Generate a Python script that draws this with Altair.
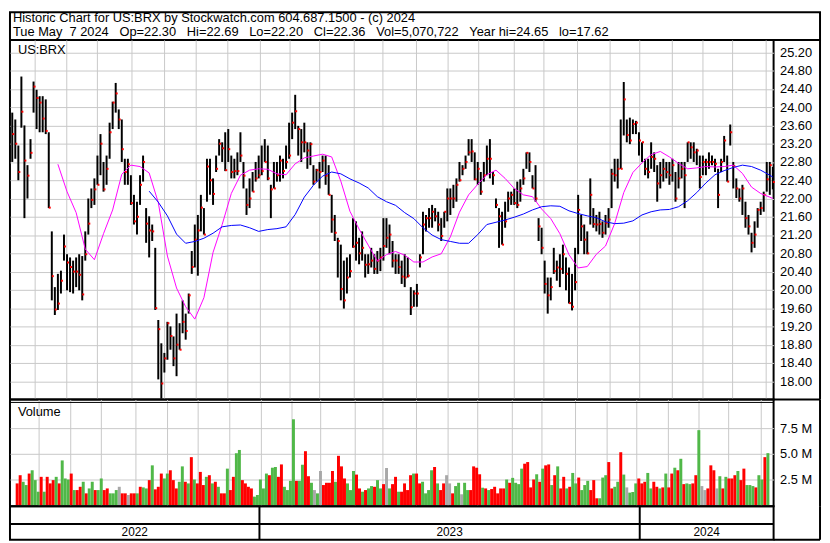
import altair as alt
import pandas as pd

# ------------------------------------------------------------------ data
TITLE_LINE_1 = "Historic Chart for US:BRX by Stockwatch.com 604.687.1500 - (c) 2024"
TITLE_LINE_2 = ("Tue May\u00a0\u00a07 2024\u00a0\u00a0\u00a0Op=22.30\u00a0\u00a0\u00a0Hi=22.69"
                "\u00a0\u00a0\u00a0Lo=22.20\u00a0\u00a0\u00a0Cl=22.36\u00a0\u00a0\u00a0Vol=5,070,722"
                "\u00a0\u00a0\u00a0Year hi=24.65\u00a0\u00a0\u00a0lo=17.62")
SYMBOL = "US:BRX"
VOLUME_LABEL = "Volume"
START_DATE = "2022-05-09"
END_DATE = "2024-05-07"
MARKET_HOLIDAYS = ["2022-05-30", "2022-06-20", "2022-07-04", "2022-09-05", "2022-11-24",
                   "2022-12-26", "2023-01-02", "2023-01-16", "2023-02-20", "2023-04-07",
                   "2023-05-29", "2023-06-19", "2023-07-04", "2023-09-04", "2023-11-23",
                   "2023-12-25", "2024-01-01", "2024-01-15", "2024-02-19", "2024-03-29"]

# one bar per two trading days, oldest first, last = 2024-05-07
HIGH = [23.88, 23.73, 23.16, 24.67, 23.60, 22.73, 23.30, 24.56, 24.38, 24.24,
        24.24, 24.17, 23.45, 21.28, 20.06, 20.35, 20.42, 21.21, 20.78, 20.71,
        20.64, 20.71, 20.78, 20.74, 21.28, 22.00, 22.22, 22.44, 22.94, 23.41,
        22.80, 22.94, 23.66, 24.12, 24.53, 23.95, 23.73, 22.87, 22.87, 22.51,
        22.08, 21.93, 22.51, 22.94, 21.79, 21.61, 21.43, 20.92, 19.34, 18.83,
        18.62, 19.30, 19.20, 18.98, 19.48, 19.27, 19.77, 19.48, 19.92, 20.85,
        21.43, 21.64, 22.08, 21.79, 22.87, 22.87, 22.44, 22.94, 23.30, 23.23,
        23.45, 23.52, 22.94, 22.87, 23.01, 23.45, 22.80, 22.22, 22.44, 22.58,
        22.80, 22.94, 23.16, 23.30, 23.16, 22.30, 22.80, 22.80, 22.94, 22.87,
        23.16, 23.66, 23.88, 24.27, 23.59, 23.52, 23.66, 23.23, 23.23, 22.73,
        22.65, 22.80, 22.94, 22.94, 22.73, 22.08, 21.64, 21.14, 20.99, 20.64,
        20.71, 20.78, 21.57, 21.50, 21.14, 21.28, 20.78, 20.78, 20.92, 20.78,
        20.85, 20.92, 21.57, 21.57, 21.43, 21.07, 20.78, 20.78, 20.64, 20.78,
        20.71, 20.06, 19.99, 20.13, 20.78, 21.71, 21.64, 21.79, 21.86, 21.79,
        21.71, 21.57, 21.71, 22.22, 22.22, 22.30, 22.44, 22.80, 22.73, 22.94,
        23.30, 23.30, 23.01, 22.80, 22.58, 22.80, 23.16, 23.30, 22.58, 22.00,
        21.79, 21.71, 21.93, 22.15, 22.15, 22.22, 22.37, 22.42, 22.65, 23.01,
        23.01, 22.51, 22.73, 21.57, 21.36, 20.64, 20.27, 20.27, 20.92, 20.64,
        20.78, 20.99, 20.71, 20.49, 20.35, 20.92, 22.08, 21.64, 21.43, 21.28,
        22.44, 21.79, 21.64, 21.71, 21.50, 21.64, 21.79, 22.65, 22.87, 22.87,
        23.73, 24.55, 23.73, 23.77, 23.73, 23.70, 23.45, 23.23, 22.87, 22.87,
        23.23, 23.01, 22.73, 22.80, 22.87, 22.80, 22.80, 22.87, 22.58, 22.80,
        22.80, 22.80, 23.23, 23.23, 23.23, 23.09, 22.94, 22.94, 22.87, 23.01,
        22.94, 22.87, 22.65, 22.87, 23.37, 22.94, 23.62, 22.80, 22.44, 22.22,
        22.30, 21.93, 21.64, 21.25, 21.50, 21.79, 21.93, 22.15, 22.80, 22.80,
        22.69]
LOW = [22.80, 22.87, 22.40, 23.55, 21.57, 22.00, 22.87, 23.88, 23.52, 23.45,
       23.45, 23.41, 21.79, 19.77, 19.45, 19.56, 19.92, 20.64, 19.99, 19.95,
       19.92, 20.06, 19.99, 19.77, 20.64, 21.21, 21.79, 21.86, 22.30, 22.51,
       22.15, 22.30, 22.87, 23.52, 23.88, 23.52, 22.80, 22.30, 22.30, 21.86,
       21.43, 21.21, 21.86, 22.37, 21.03, 20.71, 21.07, 19.56, 18.04, 17.62,
       18.19, 18.47, 18.69, 18.33, 18.11, 18.69, 19.05, 18.91, 19.48, 20.35,
       20.49, 20.31, 21.28, 21.21, 21.93, 22.08, 21.86, 22.58, 22.94, 22.80,
       22.60, 22.80, 22.44, 22.44, 22.51, 22.80, 22.22, 21.64, 21.79, 22.15,
       22.37, 22.44, 22.51, 22.80, 22.40, 21.57, 22.22, 22.37, 22.37, 22.44,
       22.65, 22.87, 23.30, 23.52, 22.94, 22.80, 23.01, 22.65, 22.73, 22.30,
       22.37, 22.22, 22.58, 22.30, 22.08, 21.25, 21.07, 20.27, 19.77, 19.59,
       19.92, 20.27, 20.92, 20.64, 20.56, 20.64, 20.27, 20.35, 20.49, 20.35,
       20.35, 20.41, 20.64, 20.92, 20.78, 20.49, 20.35, 20.35, 20.13, 20.06,
       20.27, 19.45, 19.63, 19.63, 20.49, 20.78, 21.28, 21.36, 21.36, 21.50,
       21.28, 21.07, 21.36, 21.50, 21.64, 21.79, 21.93, 22.37, 22.51, 22.65,
       22.94, 22.80, 22.40, 22.30, 22.08, 22.37, 22.51, 22.44, 22.30, 21.79,
       20.92, 20.99, 21.36, 21.71, 21.86, 21.86, 21.79, 21.93, 22.30, 22.65,
       22.58, 22.22, 21.93, 21.07, 20.78, 19.92, 19.48, 19.77, 20.35, 20.20,
       20.06, 20.35, 19.99, 19.70, 19.55, 19.99, 20.78, 21.07, 20.78, 20.78,
       21.43, 21.36, 21.28, 21.21, 21.14, 21.21, 21.36, 21.79, 22.37, 22.22,
       22.65, 23.38, 23.23, 23.19, 23.41, 23.41, 22.94, 22.80, 22.51, 22.44,
       22.65, 22.58, 21.93, 22.22, 22.37, 22.44, 22.30, 22.37, 21.93, 22.22,
       22.44, 21.79, 22.80, 22.87, 22.80, 22.73, 22.22, 22.51, 22.51, 22.65,
       22.73, 22.58, 21.79, 22.58, 22.80, 22.37, 23.16, 22.22, 22.01, 21.93,
       21.64, 21.36, 21.21, 20.82, 20.92, 21.36, 21.64, 21.71, 22.15, 22.08,
       22.20]
CLOSE = [23.41, 23.20, 22.58, 23.90, 22.83, 22.50, 23.00, 24.45, 24.20, 24.10,
         23.75, 23.48, 21.80, 20.30, 19.57, 19.70, 20.20, 20.95, 20.60, 20.50,
         20.40, 20.40, 20.33, 19.90, 20.78, 21.45, 21.97, 22.20, 22.30, 23.20,
         22.20, 22.65, 23.45, 24.10, 24.30, 23.73, 23.08, 22.58, 22.75, 21.90,
         21.50, 21.60, 22.30, 22.80, 21.45, 21.30, 21.28, 19.60, 19.14, 17.95,
         18.50, 19.27, 18.99, 18.50, 18.80, 18.69, 19.30, 19.10, 19.88, 20.50,
         21.10, 21.30, 21.80, 21.21, 22.70, 22.40, 22.10, 22.65, 23.20, 23.10,
         22.62, 23.08, 22.58, 22.60, 22.60, 22.94, 22.50, 21.86, 22.00, 22.15,
         22.44, 22.51, 22.60, 22.80, 22.44, 22.20, 22.22, 22.51, 22.83, 22.60,
         22.80, 22.94, 23.66, 23.91, 23.52, 23.23, 23.23, 23.05, 23.19, 22.37,
         22.62, 22.58, 22.83, 22.50, 22.08, 21.54, 21.25, 21.07, 20.02, 19.77,
         20.27, 20.41, 20.95, 21.03, 20.80, 20.92, 20.55, 20.56, 20.64, 20.46,
         20.64, 20.71, 20.96, 21.14, 21.21, 20.64, 20.64, 20.50, 20.29, 20.27,
         20.31, 19.62, 19.92, 19.92, 20.71, 21.43, 21.57, 21.57, 21.71, 21.61,
         21.43, 21.18, 21.71, 22.00, 22.00, 22.00, 22.30, 22.40, 22.65, 22.80,
         23.01, 23.03, 22.42, 22.65, 22.15, 22.51, 22.87, 22.87, 22.51, 21.86,
         21.61, 20.99, 21.50, 22.00, 22.08, 21.90, 21.86, 22.22, 22.44, 23.00,
         22.80, 22.22, 22.00, 21.39, 20.92, 20.13, 19.88, 20.06, 20.41, 20.49,
         20.46, 20.78, 20.35, 19.71, 19.63, 20.17, 21.75, 21.39, 21.10, 20.80,
         22.08, 21.44, 21.43, 21.44, 21.25, 21.46, 21.54, 22.54, 22.51, 22.65,
         22.65, 24.17, 23.39, 23.27, 23.63, 23.66, 23.27, 23.23, 22.65, 22.58,
         22.91, 22.87, 22.33, 22.51, 22.65, 22.58, 22.51, 22.73, 22.00, 22.44,
         22.65, 22.51, 23.23, 23.12, 23.01, 23.05, 22.47, 22.80, 22.80, 22.80,
         22.80, 22.76, 22.08, 22.80, 23.27, 22.37, 23.45, 22.71, 22.22, 22.00,
         22.22, 21.57, 21.39, 21.03, 21.21, 21.75, 21.79, 22.08, 22.42, 22.73,
         22.36]
# volume in millions of shares, same bars as above
VOLUME = [2.12, 2.92, 2.28, 1.96, 3.08, 3.40, 2.44, 1.31, 2.76, 1.31,
          2.76, 2.12, 2.44, 2.76, 2.12, 4.36, 2.60, 2.50, 3.08, 1.47,
          1.47, 1.79, 2.28, 1.15, 1.63, 2.28, 1.47, 1.47, 2.60, 1.47,
          1.63, 1.15, 1.15, 1.47, 1.79, 1.15, 1.15, 0.99, 1.15, 1.15,
          1.15, 1.79, 1.73, 1.63, 2.44, 3.88, 1.54, 1.79, 3.08, 2.60,
          3.08, 3.40, 2.44, 1.63, 2.28, 3.78, 2.28, 2.12, 4.68, 2.50,
          2.12, 3.24, 1.96, 2.76, 2.92, 2.12, 2.28, 1.79, 1.15, 1.15,
          3.56, 1.47, 2.76, 5.06, 5.38, 2.44, 2.12, 1.79, 1.63, 0.83,
          0.99, 2.50, 1.63, 3.08, 2.92, 3.65, 3.72, 2.76, 3.97, 1.79,
          1.47, 2.37, 8.37, 2.37, 2.37, 3.94, 5.26, 2.82, 2.18, 1.47,
          1.15, 3.33, 1.96, 2.18, 2.18, 3.33, 2.28, 4.81, 3.78, 2.60,
          2.12, 1.47, 3.33, 2.98, 1.63, 1.31, 1.47, 1.63, 1.86, 1.79,
          2.44, 1.63, 2.05, 3.62, 1.63, 2.05, 2.76, 1.31, 1.31, 2.12,
          1.47, 2.92, 3.08, 3.08, 2.12, 2.28, 1.15, 1.47, 3.40, 3.72,
          2.12, 1.47, 2.12, 2.92, 2.12, 1.15, 1.86, 2.18, 1.06, 2.18,
          1.47, 1.47, 3.78, 3.65, 3.01, 1.70, 1.63, 1.47, 1.57, 1.79,
          1.15, 1.63, 1.63, 2.50, 2.18, 2.66, 2.18, 2.05, 3.56, 4.04,
          4.20, 1.73, 2.50, 3.01, 2.28, 3.56, 3.88, 3.97, 1.96, 2.92,
          3.78, 1.63, 2.76, 1.63, 1.79, 3.14, 2.12, 2.69, 1.47, 1.96,
          2.37, 1.47, 2.44, 0.67, 0.67, 2.69, 2.92, 4.20, 1.63, 1.79,
          2.28, 5.16, 2.98, 1.73, 1.22, 1.28, 2.12, 2.60, 2.12, 2.28,
          3.14, 1.63, 2.28, 1.79, 1.63, 1.73, 3.08, 1.73, 3.08, 3.65,
          3.40, 4.52, 2.05, 2.12, 2.05, 2.12, 2.92, 7.31, 1.86, 1.47,
          1.63, 3.88, 3.40, 1.63, 2.82, 1.63, 2.76, 2.60, 2.60, 2.92,
          3.33, 2.44, 3.56, 1.96, 1.96, 1.86, 1.73, 2.92, 2.50, 4.68,
          5.07]
# g = up day, r = down day, n = unchanged
VOLUME_DIRECTION = ("rrggrgggrg" "rrrgrgggrg" "rrgrggrggr" "rgggnrrnrr" "grggrgrrrg"
                    "grrrggrgrg" "rrrgrgrgrr" "grrggrrrrg" "ggggrggrrg" "gggrggrrgn"
                    "gnrrrrgrrr" "gggrrgrggr" "ggrngrrgrr" "rrgrrggggr" "grrnnrggng"
                    "grrrrgrgrr" "rrrgrggggr" "rrrgrgrrgr" "grrgrggrgg" "grrrgggrrg"
                    "grgngggrrr" "ggrrgrgrrg" "rgrggrrgnn" "rrrngrgrrr" "grrgggrggr" "g")

# moving averages read at every third bar
FAST_MA_BAR = list(range(15, 250, 3)) + [250]
FAST_MA = [22.75, 22.15, 21.69, 20.89, 20.66, 21.23, 21.75, 22.53, 22.73, 22.70,
           22.56, 21.91, 20.74, 20.04, 19.63, 19.36, 19.83, 20.82, 21.43, 22.11,
           22.51, 22.62, 22.65, 22.64, 22.54,
           22.52, 22.76, 22.89, 22.93, 22.97, 22.91, 22.38, 21.72, 21.33, 20.98,
           20.63, 20.77, 20.84, 20.76, 20.61, 20.61, 20.72, 20.79, 21.16, 21.70,
           22.08, 22.31, 22.52, 22.62, 22.44, 22.22, 22.08, 22.04, 21.77,
           21.56, 21.23, 20.77, 20.48, 20.51, 20.78, 20.96, 21.45, 22.13, 22.57,
           22.78, 22.96, 23.03, 22.91, 22.77, 22.65, 22.67, 22.70, 22.69, 22.70,
           22.73, 22.55, 22.25, 22.11, 22.03, 22.00]
SLOW_MA_BAR = list(range(45, 250, 3)) + [250]
SLOW_MA = [22.16, 21.92, 21.62, 21.22, 21.02, 21.06, 21.13, 21.24, 21.38, 21.41,
           21.42, 21.36, 21.28, 21.32, 21.34,
           21.38, 21.65, 22.03, 22.29, 22.49, 22.58, 22.54, 22.43, 22.34, 22.23,
           22.04, 21.93, 21.85, 21.69, 21.56, 21.36, 21.20, 21.10, 21.06, 21.02,
           21.02, 21.21, 21.43, 21.48, 21.53, 21.59, 21.66, 21.75, 21.82,
           21.84, 21.83, 21.73, 21.67, 21.62, 21.58, 21.49, 21.45, 21.46, 21.51,
           21.64, 21.71, 21.75, 21.76, 21.82, 21.95, 22.13, 22.34, 22.52, 22.61,
           22.68, 22.73, 22.70, 22.62, 22.51, 22.47]

PRICE_TICKS = [18.00, 18.40, 18.80, 19.20, 19.60, 20.00, 20.40, 20.80, 21.20, 21.60,
               22.00, 22.40, 22.80, 23.20, 23.60, 24.00, 24.40, 24.80, 25.20]
VOLUME_TICKS = [2.5, 5.0, 7.5]

assert len(HIGH) == len(LOW) == len(CLOSE) == len(VOLUME) == len(VOLUME_DIRECTION)
assert len(FAST_MA) == len(FAST_MA_BAR) and len(SLOW_MA) == len(SLOW_MA_BAR)

# ------------------------------------------------------------------ calendar
days = pd.bdate_range(START_DATE, END_DATE)
days = days[~days.isin(pd.to_datetime(MARKET_HOLIDAYS))]
ND = len(days)
pos = pd.Series(range(ND), index=days)
month_first = pos.groupby([days.year, days.month]).min().tolist()
month_lines = [i - 0.5 for i in month_first if i > 0]
year_first = pos.groupby(days.year).min()
edges = [-0.5] + [v - 0.5 for v in year_first.tolist()[1:]] + [ND - 0.5]
years_df = pd.DataFrame({
    "year": [str(y) for y in year_first.index],
    "day": [(edges[i] + edges[i + 1]) / 2 for i in range(len(edges) - 1)],
})
sep_df = pd.DataFrame({"day": edges[1:-1]})

NB = len(HIGH)
offset = ND - 1 - 2 * (NB - 1)
bar_day = [offset + 2 * k for k in range(NB)]

price_df = pd.DataFrame({"day": bar_day, "high": HIGH, "low": LOW, "close": CLOSE})
vol_df = pd.DataFrame({"day": bar_day, "vol": VOLUME, "dir": list(VOLUME_DIRECTION),
                       "base": [0.0] * NB})
ma_df = pd.concat([
    pd.DataFrame({"day": [offset + 2 * k for k in FAST_MA_BAR], "ma": FAST_MA, "series": "fast"}),
    pd.DataFrame({"day": [offset + 2 * k for k in SLOW_MA_BAR], "ma": SLOW_MA, "series": "slow"}),
])

# ------------------------------------------------------------------ style
FONT = "Liberation Sans"
GRID = "#c8c8c8"
GREEN = "#50b848"
RED = "#ff0000"
GREY = "#a8a8a8"
PW = 773            # plot width
TOTAL_W = 820
HEADER_H = 28
PRICE_H = 364
VOL_H = 108
BOTTOM_H = 34

one = pd.DataFrame({"k": [0]})
xscale = alt.Scale(domain=[-0.5, ND - 0.5], nice=False, zero=False)
x_grid_axis = alt.Axis(values=month_lines, labels=False, ticks=False, domain=False,
                       grid=True, gridColor=GRID, gridWidth=1, title=None)
x_enc = alt.X("day:Q", scale=xscale, axis=x_grid_axis)

pscale = alt.Scale(domain=[17.60, 17.60 + PRICE_H / 46.24], nice=False, zero=False)
paxis = alt.Axis(orient="right", values=PRICE_TICKS, format=".2f", labelFont=FONT,
                 labelFontSize=13, labelColor="black", labelPadding=6, ticks=False,
                 domain=False, grid=True, gridColor=GRID, gridWidth=1, title=None)


def border_right(h):
    return alt.Chart(one).mark_rule(color="black", strokeWidth=2).encode(
        x=alt.value(TOTAL_W), y=alt.value(0), y2=alt.value(h))


# ------------------------------------------------------------------ header
header = alt.layer(
    alt.Chart(pd.DataFrame({"t": [TITLE_LINE_1]})).mark_text(
        align="left", baseline="middle", font=FONT, fontSize=13, color="black").encode(
        text="t:N", x=alt.value(3), y=alt.value(6)),
    alt.Chart(pd.DataFrame({"t": [TITLE_LINE_2]})).mark_text(
        align="left", baseline="middle", font=FONT, fontSize=13, color="black").encode(
        text="t:N", x=alt.value(3), y=alt.value(20)),
).properties(width=TOTAL_W, height=HEADER_H)

# ------------------------------------------------------------------ price panel
bars = alt.Chart(price_df).mark_rule(color="black", strokeWidth=2).encode(
    x=x_enc, y=alt.Y("low:Q", scale=pscale, axis=paxis), y2="high:Q")
closes = alt.Chart(price_df).mark_square(size=4, color=RED, opacity=1, xOffset=1).encode(
    x=x_enc, y=alt.Y("close:Q", scale=pscale, axis=paxis))
mas = alt.Chart(ma_df).mark_line(strokeWidth=1).encode(
    x=x_enc, y=alt.Y("ma:Q", scale=pscale, axis=paxis),
    color=alt.Color("series:N", scale=alt.Scale(domain=["fast", "slow"],
                                                range=["#ff00ff", "#0000ff"]), legend=None),
    detail="series:N")
sym = alt.Chart(pd.DataFrame({"t": [SYMBOL]})).mark_text(
    align="left", baseline="top", font=FONT, fontSize=13, color="black").encode(
    text="t:N", x=alt.value(8), y=alt.value(4))
price_band_bottom = alt.Chart(one).mark_rule(color="black", strokeWidth=2).encode(
    x=alt.value(PW), x2=alt.value(TOTAL_W), y=alt.value(PRICE_H))
price = alt.layer(bars, closes, mas, sym, border_right(PRICE_H), price_band_bottom).properties(
    width=PW, height=PRICE_H)

# ------------------------------------------------------------------ volume panel
vscale = alt.Scale(domain=[-0.1, 10.3], nice=False, zero=False)
vaxis = alt.Axis(orient="right", values=VOLUME_TICKS,
                 labelExpr="format(datum.value, '.1f') + ' M'", labelFont=FONT,
                 labelFontSize=13, labelColor="black", labelPadding=6, ticks=False,
                 domain=False, grid=True, gridColor=GRID, gridWidth=1, title=None)
vbars = alt.Chart(vol_df).mark_bar(size=3).encode(
    x=x_enc, y=alt.Y("vol:Q", scale=vscale, axis=vaxis), y2="base:Q",
    color=alt.Color("dir:N", scale=alt.Scale(domain=["g", "r", "n"], range=[GREEN, RED, GREY]),
                    legend=None))
vlabel = alt.Chart(pd.DataFrame({"t": [VOLUME_LABEL]})).mark_text(
    align="left", baseline="middle", font=FONT, fontSize=13, color="black").encode(
    text="t:N", x=alt.value(8), y=alt.value(13))
double_line = alt.Chart(one).mark_rule(color="black", strokeWidth=1).encode(
    x=alt.value(0), x2=alt.value(PW), y=alt.value(3))
volume = alt.layer(vbars, vlabel, double_line, border_right(VOL_H)).properties(
    width=PW, height=VOL_H)

# ------------------------------------------------------------------ year band
x_plain = alt.X("day:Q", scale=xscale, axis=None)
seps = alt.Chart(sep_df).mark_rule(color="black", strokeWidth=2).encode(
    x=x_plain, y=alt.value(0), y2=alt.value(BOTTOM_H))
mid_line = alt.Chart(one).mark_rule(color="black", strokeWidth=2).encode(
    x=alt.value(0), x2=alt.value(PW), y=alt.value(18))
year_txt = alt.Chart(years_df).mark_text(
    baseline="middle", align="center", font=FONT, fontSize=12, color="black").encode(
    x=x_plain, y=alt.value(26), text="year:N")
bottom_edge = alt.Chart(one).mark_rule(color="black", strokeWidth=2).encode(
    x=alt.value(PW), x2=alt.value(TOTAL_W), y=alt.value(BOTTOM_H))
bottom = alt.layer(seps, mid_line, year_txt, border_right(BOTTOM_H), bottom_edge).properties(
    width=PW, height=BOTTOM_H)

chart = alt.vconcat(header, price, volume, bottom, spacing=0, bounds="flush").resolve_scale(
    color="independent"
).properties(padding=0, background="white").configure_view(stroke="black", strokeWidth=2)

chart.save("out.html", embed_options={"renderer": "svg", "actions": False})
